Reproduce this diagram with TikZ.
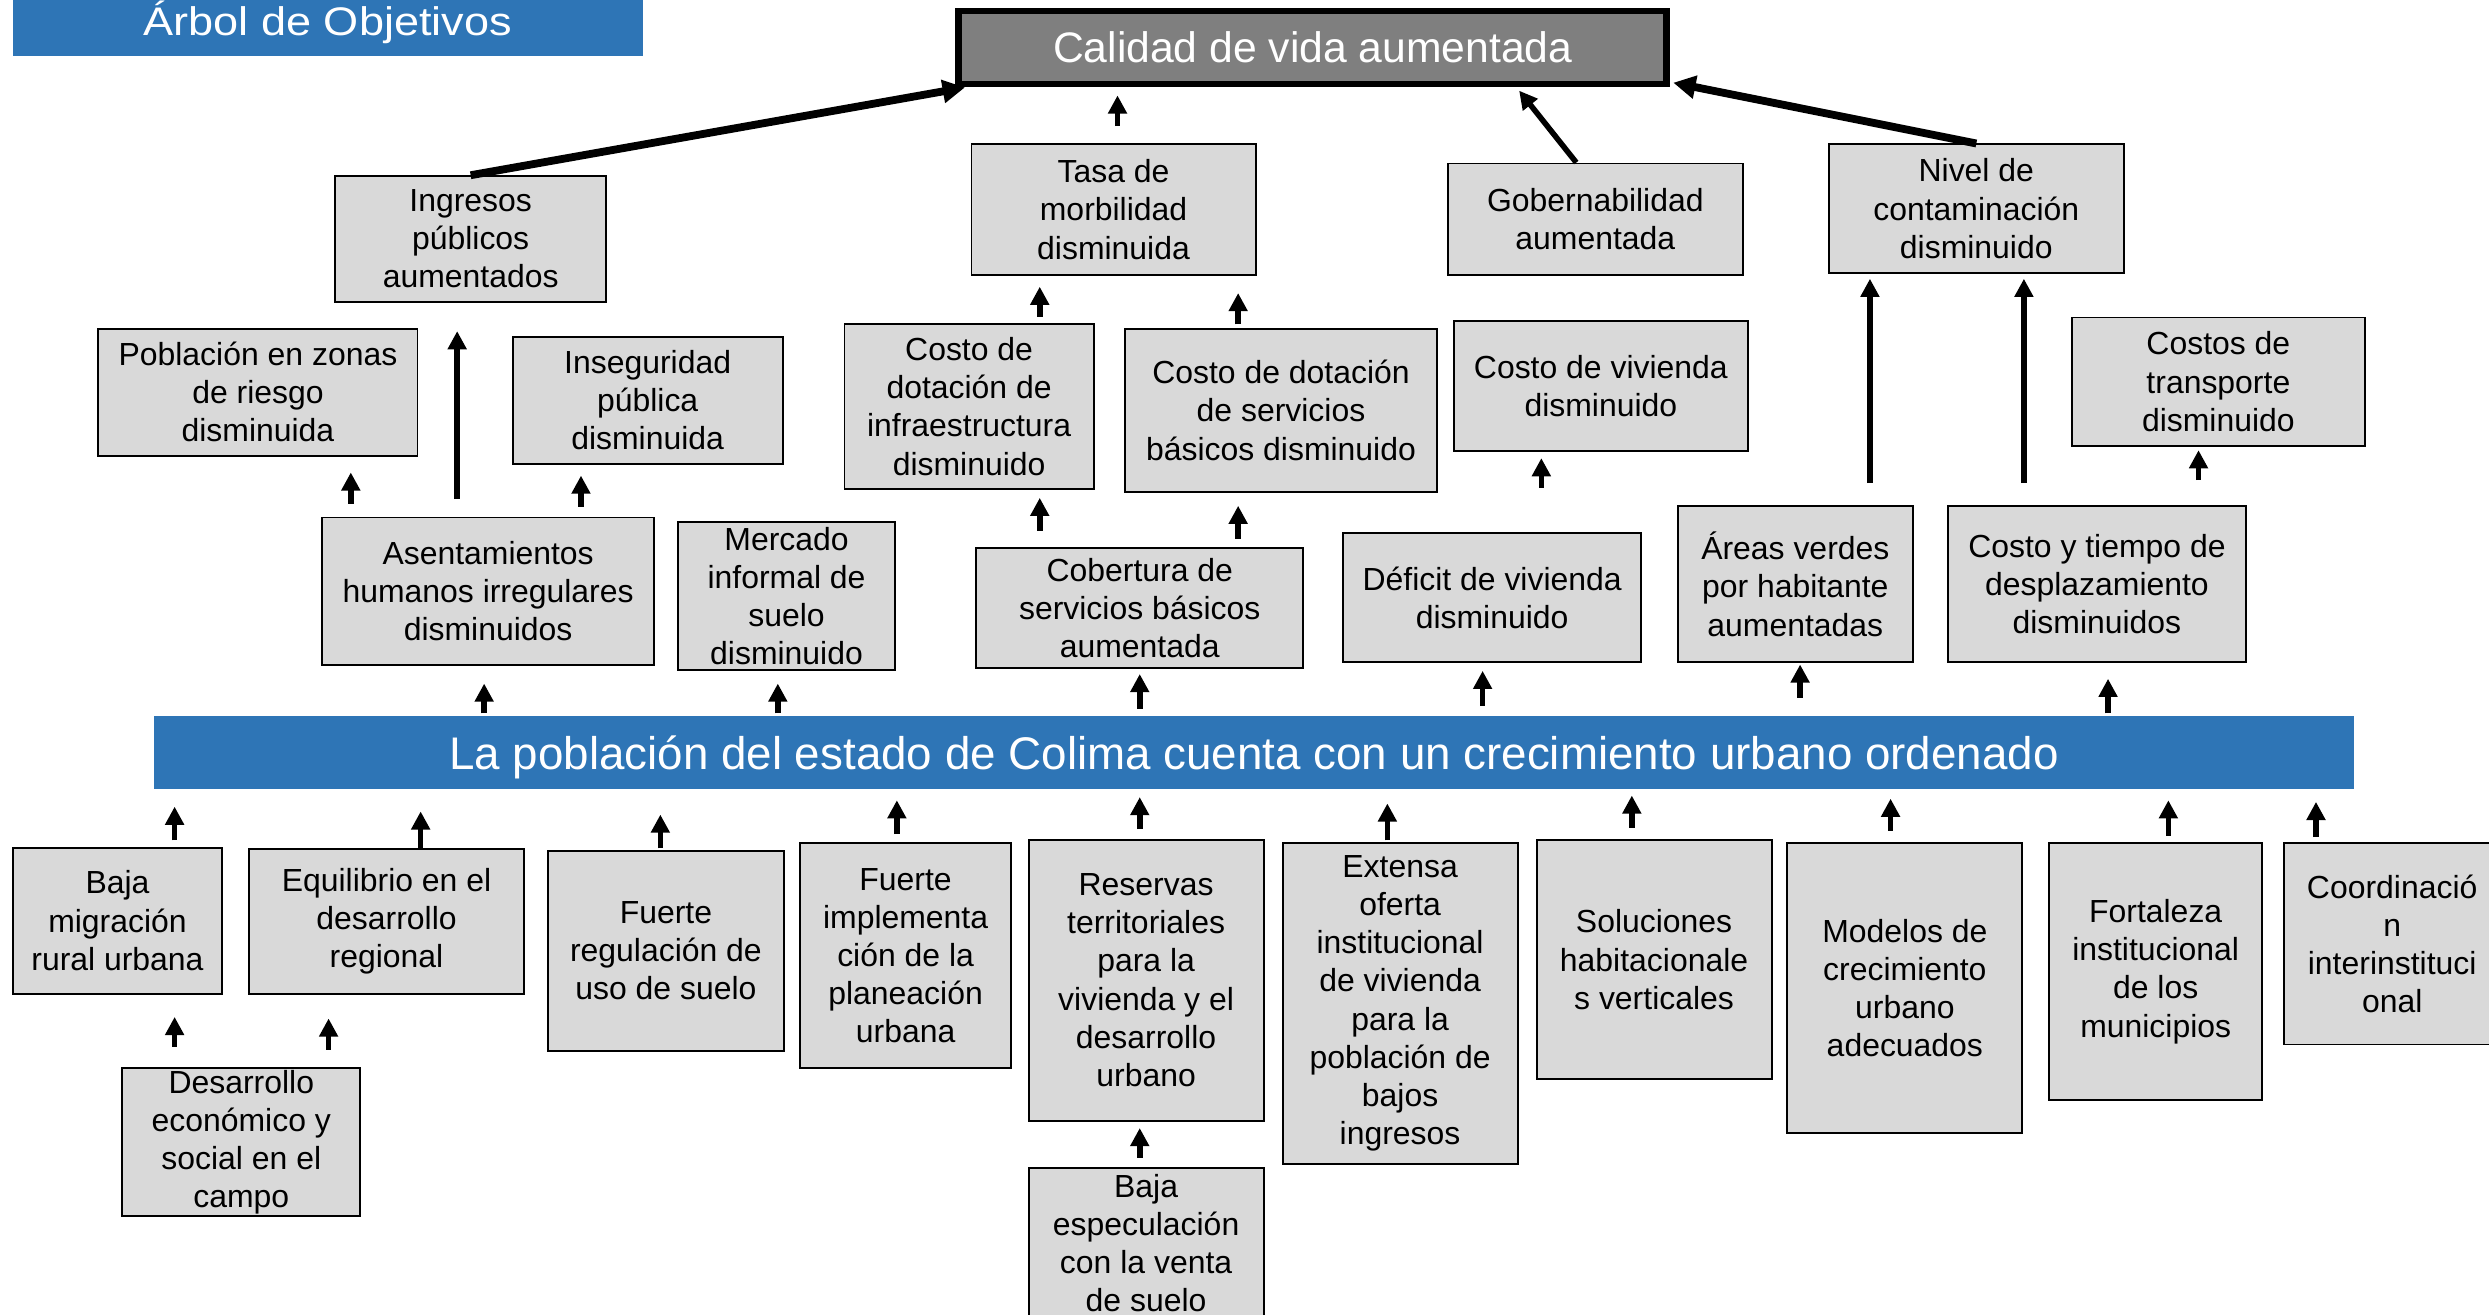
\documentclass[tikz,border=0pt]{standalone}
\usepackage{fontspec}
\setmainfont{Liberation Sans}
\usetikzlibrary{arrows.meta,calc}
\definecolor{boxgray}{HTML}{D9D9D9}
\definecolor{topgray}{HTML}{7F7F7F}
\definecolor{barblue}{HTML}{2E75B6}
\newcommand\bx[6]{\node[box, minimum width={(#4-#2)*0.02cm}, minimum height={(#5-#3)*0.02cm}] (#1) at ({(#2+#4)/2},{(#3+#5)/2}) {#6};}
\newcommand\up[5]{\draw[arr] ($(#2.north -| #1,0)+(0,-#4)$) -- ($(#3.south -| #1,0)+(0,#5)$);}
\begin{document}
\begin{tikzpicture}[x=0.02cm,y=-0.02cm,
  box/.style={draw=black, line width=0.7pt, fill=boxgray, inner sep=0pt, align=center, font=\fontsize{11.45}{13.7}\selectfont},
  arr/.style={line width=2pt, -{Triangle[length=6.5pt,width=6.5pt]}},
  arrthick/.style={line width=2.8pt, -{Triangle[length=8pt,width=8pt]}},
  bigtext/.style={text=white, font=\fontsize{15.3}{17}\selectfont}]
\clip (0,0) rectangle (1568,828.4);
% title
\node[fill=barblue, minimum width={397*0.02cm}, minimum height={36*0.02cm}, inner sep=0pt] (titlebox) at (206.5,17.5) {};
\node[text=white, font=\fontsize{14.3}{16}\selectfont, anchor=base, inner sep=0pt] (title) at (206.5,22.5) {\scalebox{1.13}[1]{Árbol de Objetivos}};
% top box
\node[draw=black, line width=2.4pt, fill=topgray, minimum width={446*0.02cm}, minimum height={46*0.02cm}, inner sep=0pt, bigtext] (calidad) at (827,30) {Calidad de vida aumentada};
% central bar
\node[fill=barblue, minimum width={1386*0.02cm}, minimum height={46*0.02cm}, inner sep=0pt] (bar) at (790,473.8) {};
\node[text=white, font=\fontsize{16.4}{18}\selectfont, anchor=base, inner sep=0pt] (bartext) at (790,484.5) {La población del estado de Colima cuenta con un crecimiento urbano ordenado};
% upper boxes
\bx{ingresos}{211}{111}{382}{190}{Ingresos\\públicos\\aumentados}
\bx{tasa}{612}{91}{791}{173}{Tasa de\\morbilidad\\disminuida}
\bx{gob}{912}{103}{1098}{173}{Gobernabilidad\\aumentada}
\bx{nivel}{1152}{91}{1338}{172}{Nivel de\\contaminación\\disminuido}
\bx{pob}{62}{207}{263}{287}{Población en zonas\\de riesgo\\disminuida}
\bx{inseg}{323}{212}{493}{292}{Inseguridad\\pública\\disminuida}
\bx{infra}{532}{204}{689}{308}{Costo de\\dotación de\\infraestructura\\disminuido}
\bx{serv}{709}{207}{905}{310}{Costo de dotación\\de servicios\\básicos disminuido}
\bx{viv}{916}{202}{1101}{284}{Costo de vivienda\\disminuido}
\bx{transp}{1305}{200}{1490}{281}{Costos de\\transporte\\disminuido}
\bx{asent}{203}{326}{412}{419}{Asentamientos\\humanos irregulares\\disminuidos}
\bx{merc}{427}{329}{564}{422}{Mercado\\informal de\\suelo\\disminuido}
\bx{cob}{615}{345}{821}{421}{Cobertura de\\servicios básicos\\aumentada}
\bx{defic}{846}{336}{1034}{417}{Déficit de vivienda\\disminuido}
\bx{areas}{1057}{319}{1205}{417}{Áreas verdes\\por habitante\\aumentadas}
\bx{ctiempo}{1227}{319}{1415}{417}{Costo y tiempo de\\desplazamiento\\disminuidos}
% lower boxes
\bx{bajam}{8}{534}{140}{626}{Baja\\migración\\rural urbana}
\bx{equil}{157}{535}{330}{626}{Equilibrio en el\\desarrollo\\regional}
\bx{fuertereg}{345}{536}{494}{662}{Fuerte\\regulación de\\uso de suelo}
\bx{impl}{504}{531}{637}{673}{Fuerte\\implementa\\ción de la\\planeación\\urbana}
\bx{reservas}{648}{529}{796}{706}{Reservas\\territoriales\\para la\\vivienda y el\\desarrollo\\urbano}
\bx{extensa}{808}{531}{956}{733}{Extensa\\oferta\\institucional\\de vivienda\\para la\\población de\\bajos\\ingresos}
\bx{soluc}{968}{529}{1116}{680}{Soluciones\\habitacionale\\s verticales}
\bx{modelos}{1126}{531}{1274}{714}{Modelos de\\crecimiento\\urbano\\adecuados}
\bx{fortal}{1291}{531}{1425}{693}{Fortaleza\\institucional\\de los\\municipios}
\bx{coord}{1439}{531}{1575}{658}{Coordinació\\n\\interinstituci\\onal}
\bx{desarr}{77}{673}{227}{766}{Desarrollo\\económico y\\social en el\\campo}
\bx{especul}{648}{736}{796}{830}{Baja\\especulación\\con la venta\\de suelo}
% arrows to top
\draw[arrthick] (ingresos.north) -- ($(calidad.south west)+(6,0)$);
\up{704}{tasa}{calidad}{11}{5}
\draw[arr] ($(gob.north)+(-12,0)$) -- ($(calidad.south -| 957,0)+(0,2)$);
\draw[arrthick] (nivel.north) -- ($(calidad.south east)+(2,-3)$);
% second level
\up{288}{asent}{ingresos}{11}{18}
\up{221}{asent}{pob}{8}{10}
\up{366}{asent}{inseg}{6}{7}
\up{655}{infra}{tasa}{4}{7}
\up{780}{serv}{tasa}{2}{11}
\up{655}{cob}{infra}{10}{5}
\up{780}{cob}{serv}{5}{8}
\up{971}{defic}{viv}{28}{4}
\up{1178}{areas}{nivel}{14}{3}
\up{1275}{ctiempo}{nivel}{14}{3}
\up{1385}{ctiempo}{transp}{16}{2}
% bar to third row
\up{305}{bar}{asent}{1}{11}
\up{490}{bar}{merc}{1}{8}
\up{718}{bar}{cob}{4}{3}
\up{934}{bar}{defic}{6}{5}
\up{1134}{bar}{areas}{11}{1}
\up{1328}{bar}{ctiempo}{1}{10}
% bottom row to bar
\up{110}{bajam}{bar}{4}{11}
\up{265}{equil}{bar}{0}{14}
\up{416}{fuertereg}{bar}{1}{16}
\up{565}{impl}{bar}{5}{7}
\up{718}{reservas}{bar}{6}{5}
\up{874}{extensa}{bar}{1}{9}
\up{1028}{soluc}{bar}{7}{4}
\up{1191}{modelos}{bar}{7}{6}
\up{1366}{fortal}{bar}{4}{7}
\up{1459}{coord}{bar}{3}{8}
% lowest
\up{110}{desarr}{bajam}{13}{14}
\up{207}{desarr}{equil}{11}{15}
\up{718}{especul}{reservas}{6}{4}
\end{tikzpicture}
\end{document}
